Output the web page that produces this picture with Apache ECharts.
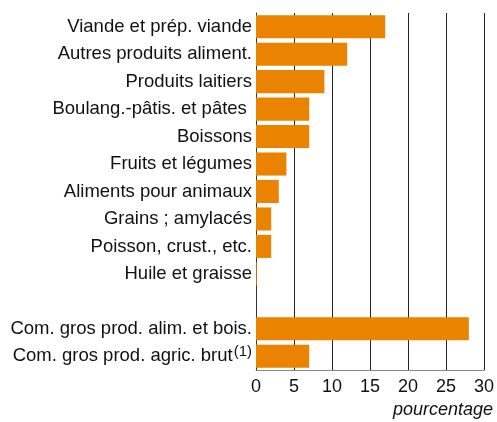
<!DOCTYPE html>
<html><head><meta charset="utf-8">
<script src="https://cdn.jsdelivr.net/npm/echarts@6/dist/echarts.min.js"></script>
<style>html,body{margin:0;padding:0;background:#fff}#c{width:497px;height:422px}</style>
</head><body><div id="c"></div>
<script>
var categories = ["Viande et prép. viande","Autres produits aliment.","Produits laitiers","Boulang.-pâtis. et pâtes ","Boissons","Fruits et légumes","Aliments pour animaux","Grains ; amylacés","Poisson, crust., etc.","Huile et graisse","","Com. gros prod. alim. et bois.","Com. gros prod. agric. brut"];
var values = [17,12,9,7,7,4,3,2,2,0.1,null,28,7];
var xTicks = [0,5,10,15,20,25,30];

var chart = echarts.init(document.getElementById('c'));
chart.setOption({
  animation:false,
  grid:{left:256,right:12,top:13,bottom:52,containLabel:false},
  xAxis:{type:'value',min:0,max:30,interval:5,
    axisLine:{show:true,lineStyle:{color:'#888',width:1}},
    axisTick:{show:false},
    splitLine:{show:true,lineStyle:{color:'#222',width:1}},
    axisLabel:{fontFamily:'Liberation Sans, Arial',fontSize:18,color:'#111',margin:8,
      formatter:function(v){return xTicks.indexOf(v)>=0?String(v):'';}}
  },
  yAxis:{type:'category',data:categories,inverse:true,
    axisLine:{show:true,lineStyle:{color:'#333',width:1}},
    axisTick:{show:false},
    axisLabel:{fontFamily:'Liberation Sans, Arial',fontSize:18.5,color:'#111',margin:4,
      formatter:function(v,i){ if(i===categories.length-1) return '{a|'+v+'}{s|(1)}'; return '{a|'+v+'}'; },
      rich:{a:{fontFamily:'Liberation Sans, Arial',fontSize:18.5,color:'#111'},
            s:{fontFamily:'Liberation Sans, Arial',fontSize:15,color:'#111',verticalAlign:'top',padding:[0,0,9,1]}}
    }
  },
  series:[{type:'bar',data:values,barCategoryGap:'16%',itemStyle:{color:'#E98300'}}],
  graphic:[{type:'text',right:4,top:401,style:{text:'pourcentage',font:'italic 18px Liberation Sans, Arial',fill:'#111'}}]
});
</script></body></html>
